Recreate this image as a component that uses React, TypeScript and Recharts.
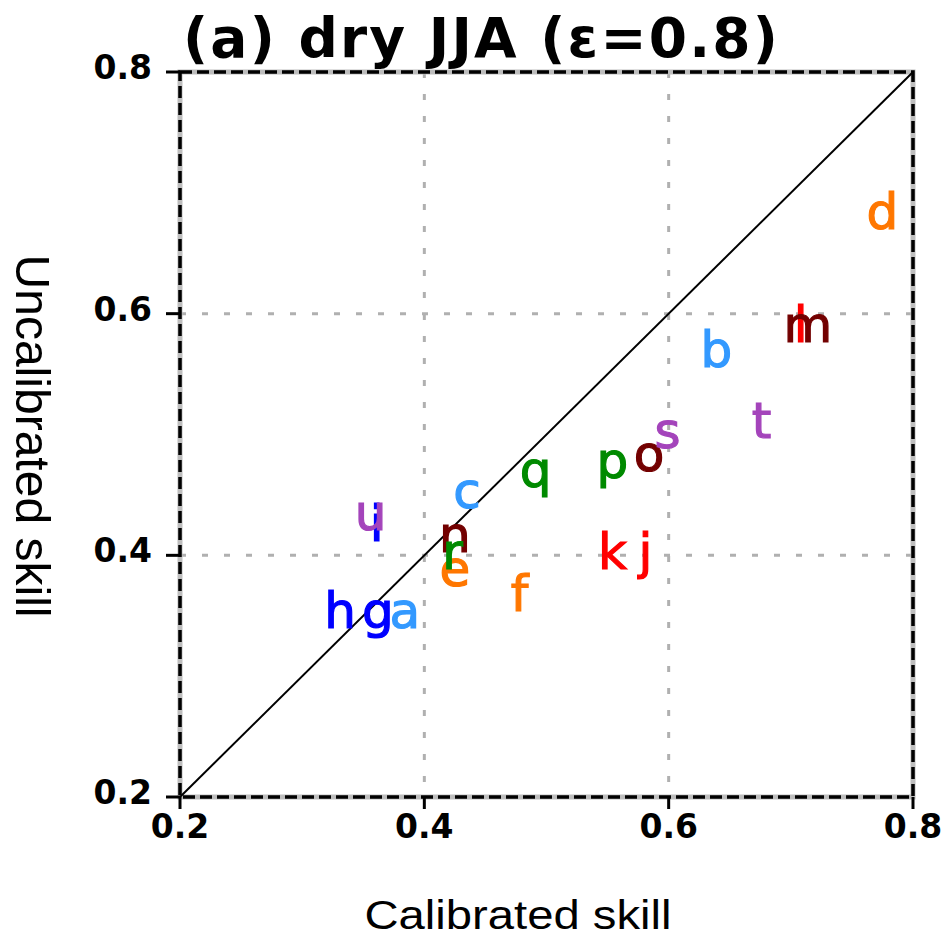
import { ScatterChart, Scatter, XAxis, YAxis, CartesianGrid, ReferenceLine, ReferenceArea } from 'recharts';

// one letter per model, grouped in threes by colour
const letters = ['a', 'b', 'c', 'd', 'e', 'f', 'g', 'h', 'i', 'j', 'k', 'l', 'm', 'n', 'o', 'p', 'q', 'r', 's', 't', 'u'];
const calibrated = [0.384, 0.639, 0.435, 0.775, 0.425, 0.478, 0.362, 0.331, 0.361, 0.581, 0.554, 0.708, 0.714, 0.425, 0.584, 0.554, 0.491, 0.423, 0.599, 0.676, 0.356];
const uncalibrated = [0.351, 0.567, 0.45, 0.681, 0.386, 0.365, 0.351, 0.351, 0.423, 0.4, 0.4, 0.588, 0.588, 0.414, 0.481, 0.475, 0.468, 0.4, 0.5, 0.508, 0.432];
const ticks = [0.2, 0.4, 0.6, 0.8];
const gridTicks = [0.4, 0.6];

const groupColors = ['#3399ff', '#ff7700', '#0000ff', '#ff0000', '#730000', '#008a00', '#a444bb'];

const groups = groupColors.map((color, g) => ({
  color,
  points: letters.slice(g * 3, g * 3 + 3).map((label, i) => ({
    label,
    x: calibrated[g * 3 + i],
    y: uncalibrated[g * 3 + i],
  })),
}));

const LETTER_FS = 50;
const FONT = '"DejaVu Sans", sans-serif';
const ARIAL = '"Liberation Sans", Arial, sans-serif';

const makeLetter = (color) => (props) => {
  const { cx, cy, payload } = props;
  return (
    <text
      x={cx}
      y={cy + LETTER_FS * 0.27}
      textAnchor="middle"
      fontSize={LETTER_FS}
      fontFamily={FONT}
      fill={color}
      stroke={color}
      strokeWidth={1.2}
    >
      {payload.label}
    </text>
  );
};

const YTick = ({ x, y, payload }) => (
  <text x={x} y={y + 7} textAnchor="end" fontSize={33} fontWeight="bold" fontFamily={FONT} fill="#000">
    {payload.value.toFixed(1)}
  </text>
);

const XTick = ({ x, y, payload }) => (
  <text x={x} y={y + 25} textAnchor="middle" fontSize={33} fontWeight="bold" fontFamily={FONT} fill="#000">
    {payload.value.toFixed(1)}
  </text>
);

export default function App() {
  return (
    <div style={{ position: 'fixed', left: 0, top: 0, background: '#fff' }}>
      <ScatterChart width={949} height={941} margin={{ top: 72, right: 36, bottom: 84, left: 120 }}>
        <CartesianGrid
          horizontalValues={gridTicks}
          verticalValues={gridTicks}
          stroke="#b0b0b0"
          strokeWidth={3}
          strokeDasharray="6 16"
        />
        <XAxis
          type="number"
          dataKey="x"
          domain={[0.2, 0.8]}
          ticks={ticks}
          allowDataOverflow
          height={60}
          axisLine={false}
          tickSize={12}
          tickMargin={4}
          tickLine={{ stroke: '#000', strokeWidth: 3 }}
          tick={<XTick />}
        />
        <YAxis
          type="number"
          dataKey="y"
          domain={[0.2, 0.8]}
          ticks={ticks}
          allowDataOverflow
          width={60}
          axisLine={false}
          tickSize={14}
          tickMargin={14}
          tickLine={{ stroke: '#000', strokeWidth: 3 }}
          tick={<YTick />}
        />
        <ReferenceLine
          segment={[{ x: 0.2, y: 0.2 }, { x: 0.8, y: 0.8 }]}
          stroke="#000"
          strokeWidth={2}
          ifOverflow="visible"
        />
        <ReferenceArea x1={0.2} x2={0.8} y1={0.2} y2={0.8} fill="none" stroke="#bdbdbd" strokeWidth={5} ifOverflow="visible" />
        <ReferenceArea x1={0.2} x2={0.8} y1={0.2} y2={0.8} fill="none" stroke="#000" strokeWidth={3.5} strokeDasharray="12 5" ifOverflow="visible" />
        {groups.map((g, i) => (
          <Scatter key={i} data={g.points} shape={makeLetter(g.color)} isAnimationActive={false} />
        ))}
        <text x={183} y={57} fontSize={55} fontWeight="bold" fontFamily={FONT} fill="#000" textLength={595} lengthAdjust="spacing">
          (a) dry JJA (ε=0.8)
        </text>
        <text
          x={518}
          y={929}
          textAnchor="middle"
          fontSize={40}
          fontFamily={ARIAL}
          fill="#000"
          textLength={307}
          lengthAdjust="spacingAndGlyphs"
        >
          Calibrated skill
        </text>
        <text
          transform="translate(16, 436) rotate(90)"
          textAnchor="middle"
          fontSize={48}
          fontFamily={ARIAL}
          fill="#000"
          textLength={363}
          lengthAdjust="spacingAndGlyphs"
        >
          Uncalibrated skill
        </text>
      </ScatterChart>
    </div>
  );
}
